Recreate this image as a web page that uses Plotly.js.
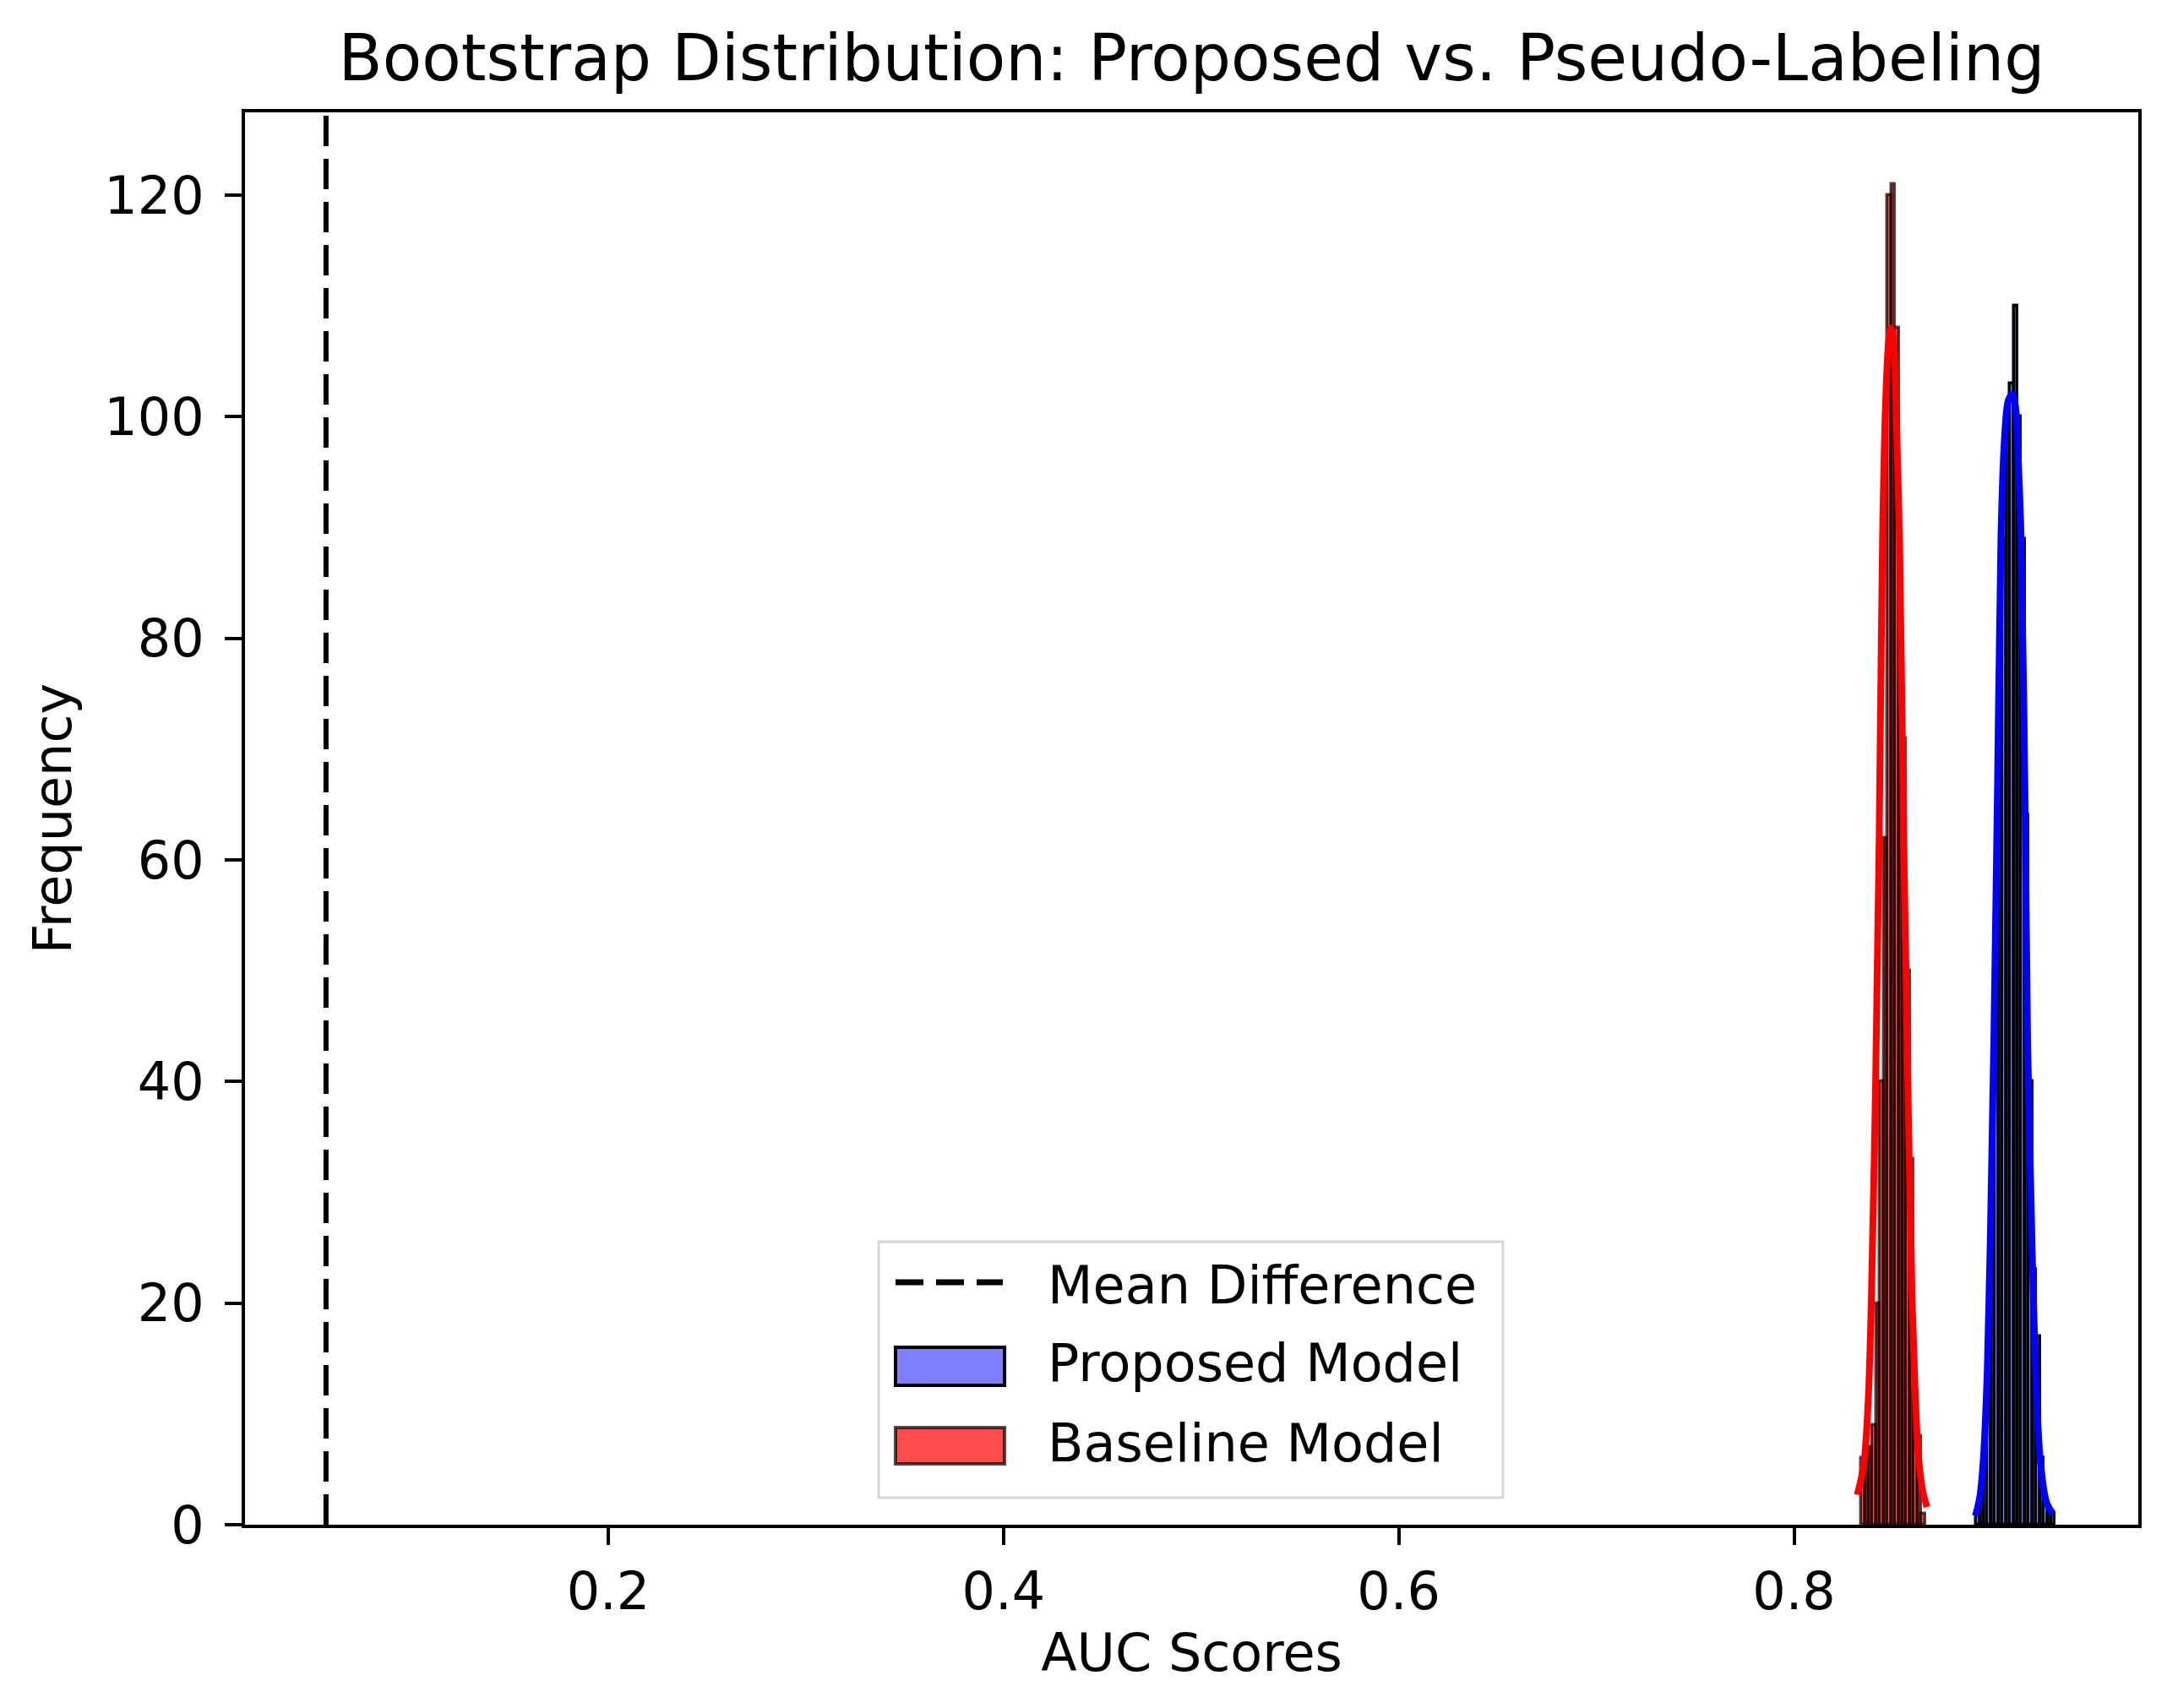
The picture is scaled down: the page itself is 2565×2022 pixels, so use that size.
<!DOCTYPE html>
<html>
<head>
<meta charset="utf-8">
<script src="https://cdn.plot.ly/plotly-3.0.1.min.js"></script>
<style>
  body { margin: 0; background: #ffffff; }
  #chart { width: 2565px; height: 2022px; }
</style>
</head>
<body>
<div id="chart"></div>
<script>
// Bootstrap AUC distributions

const binWidth = 0.0019;

// Proposed model histogram (bin centres / counts)
const proposedBins = [0.8931, 0.8950, 0.8969, 0.8988, 0.9007, 0.9026, 0.9045, 0.9064, 0.9083, 0.9102,
  0.9121, 0.9140, 0.9159, 0.9178, 0.9197, 0.9216, 0.9235, 0.9254, 0.9273, 0.9292, 0.9311];
const proposedCounts = [1, 3, 6, 14, 25, 44, 67, 89, 100, 103,
  110, 100, 89, 64, 40, 23, 17, 6, 2, 1, 1];

// Baseline model histogram
const baselineBins = [0.8350, 0.8369, 0.8388, 0.8407, 0.8426, 0.8445, 0.8464, 0.8483, 0.8502,
  0.8521, 0.8540, 0.8559, 0.8578, 0.8597, 0.8616, 0.8635, 0.8654];
const baselineCounts = [6, 6, 7, 9, 20, 40, 62, 120, 121,
  108, 84, 71, 50, 33, 12, 8, 1];

// KDE curves
const proposedKdeX = [0.8918, 0.8940, 0.8958, 0.8978, 0.8993, 0.9011, 0.9030, 0.9047, 0.9065, 0.9085, 0.9104,
  0.9120, 0.9135, 0.9149, 0.9168, 0.9182, 0.9204, 0.9225, 0.9246, 0.9278, 0.9310];
const proposedKdeY = [0.8, 2.5, 5.9, 14, 25.5, 43.6, 67, 89, 98, 101.5, 102,
  101, 96, 89, 67, 43.6, 25.5, 13, 5.9, 2, 1];

const baselineKdeX = [0.8320, 0.8338, 0.8356, 0.8375, 0.8391, 0.8413, 0.8431, 0.8448, 0.8465, 0.8480, 0.8491,
  0.8503, 0.8518, 0.8534, 0.8555, 0.8576, 0.8598, 0.8615, 0.8631, 0.8652, 0.8673];
const baselineKdeY = [2.7, 4, 5.9, 11, 20, 40, 62, 89, 102, 107, 108,
  107, 100, 89, 62, 40, 20, 11, 5.9, 3, 1.6];

const meanDifference = 0.0572;
const meanLineY = [0, 130];

const xTicks = [0.2, 0.4, 0.6, 0.8];
const yTicks = [0, 20, 40, 60, 80, 100, 120];

const legendLabels = ["Mean Difference", "Proposed Model", "Baseline Model"];

const font = "DejaVu Sans, Liberation Sans, sans-serif";
const txt = (size) => ({ family: font, size: size, color: "black" });

const meanLine = {
  x: [meanDifference, meanDifference],
  y: meanLineY,
  type: "scatter",
  mode: "lines",
  name: legendLabels[0],
  line: { color: "black", width: 6, dash: "36px,15px" },
  hoverinfo: "skip",
};

const proposedHist = {
  x: proposedBins,
  y: proposedCounts,
  width: binWidth,
  type: "bar",
  name: legendLabels[1],
  marker: {
    color: "rgba(0,0,255,0.5)",
    line: { color: "black", width: 3.5 },
  },
};

const baselineHist = {
  x: baselineBins,
  y: baselineCounts,
  width: binWidth,
  type: "bar",
  name: legendLabels[2],
  marker: {
    color: "rgba(255,0,0,0.7)",
    line: { color: "rgba(0,0,0,0.7)", width: 3.5 },
  },
};

const proposedKde = {
  x: proposedKdeX,
  y: proposedKdeY,
  type: "scatter",
  mode: "lines",
  line: { color: "blue", width: 8, shape: "spline" },
  hoverinfo: "skip",
};

const baselineKde = {
  x: baselineKdeX,
  y: baselineKdeY,
  type: "scatter",
  mode: "lines",
  line: { color: "red", width: 8, shape: "spline" },
  hoverinfo: "skip",
};

const data = [meanLine, proposedHist, baselineHist, proposedKde, baselineKde];

// legend drawn in the style of matplotlib (big handles)
const legendShapes = [
  {
    type: "rect", xref: "paper", yref: "paper",
    x0: 0.3347, x1: 0.6644, y0: 0.0191, y1: 0.2004,
    fillcolor: "rgba(255,255,255,0.8)",
    line: { color: "#d6d6d6", width: 3 },
  },
  {
    type: "line", xref: "paper", yref: "paper",
    x0: 0.3436, x1: 0.4003, y0: 0.1717, y1: 0.1717,
    line: { color: "black", width: 7, dash: "33px,15px" },
  },
  {
    type: "rect", xref: "paper", yref: "paper",
    x0: 0.3436, x1: 0.4012, y0: 0.0987, y1: 0.1256,
    fillcolor: "rgba(0,0,255,0.5)",
    line: { color: "black", width: 4 },
  },
  {
    type: "rect", xref: "paper", yref: "paper",
    x0: 0.3436, x1: 0.4012, y0: 0.0431, y1: 0.0688,
    fillcolor: "rgba(255,0,0,0.7)",
    line: { color: "rgba(0,0,0,0.7)", width: 4 },
  },
];

const legendRowsY = [0.1693, 0.1148, 0.0580];
const legendAnnotations = legendLabels.map((label, i) => ({
  text: label,
  xref: "paper", yref: "paper",
  x: 0.4230, y: legendRowsY[i],
  xanchor: "left", yanchor: "middle",
  showarrow: false,
  font: txt(62),
}));

const layout = {
  width: 2565,
  height: 2022,
  margin: { l: 290, r: 34, t: 133, b: 217 },
  paper_bgcolor: "white",
  plot_bgcolor: "white",
  barmode: "overlay",
  bargap: 0,
  showlegend: false,
  font: txt(62),
  title: {
    text: "Bootstrap Distribution: Proposed vs. Pseudo-Labeling",
    font: txt(76),
    x: 0.5,
    xref: "paper",
    xanchor: "center",
    y: 0.966,
    yref: "container",
    yanchor: "middle",
  },
  shapes: legendShapes,
  annotations: legendAnnotations,
  xaxis: {
    range: [0.0162, 0.9742],
    tickvals: xTicks,
    ticktext: xTicks.map(String),
    ticks: "outside",
    ticklen: 20,
    tickwidth: 4,
    tickcolor: "black",
    ticklabelstandoff: 2,
    showline: true,
    mirror: true,
    linecolor: "black",
    linewidth: 4,
    showgrid: false,
    zeroline: false,
    tickfont: txt(62),
    title: { text: "AUC Scores", standoff: 16, font: txt(62) },
  },
  yaxis: {
    range: [0, 127.46],
    tickvals: yTicks,
    ticks: "outside",
    ticklen: 20,
    tickwidth: 4,
    tickcolor: "black",
    ticklabelstandoff: 12,
    showline: true,
    mirror: true,
    linecolor: "black",
    linewidth: 4,
    showgrid: false,
    zeroline: false,
    tickfont: txt(62),
    title: { text: "Frequency", standoff: 20, font: txt(62) },
  },
};

const config = { displayModeBar: false, responsive: false };

Plotly.newPlot("chart", data, layout, config);
</script>
</body>
</html>
